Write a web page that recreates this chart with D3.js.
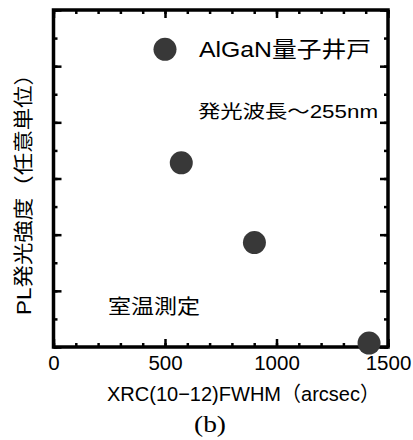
<!DOCTYPE html>
<html><head><meta charset="utf-8">
<script src="https://cdn.jsdelivr.net/npm/d3@7"></script>
<style>html,body{margin:0;padding:0;background:#fff;}svg{display:block;}</style>
</head><body>
<script>
const fwhm = [500, 573, 901, 1415];
const plIntensity = [5.3, 3.28, 1.86, 0.07];
const xMajorTicks = [0, 500, 1000, 1500];
const xMinorTicks = d3.range(0, 1501, 100);
const yMajorTicks = [0, 1, 2, 3, 4, 5, 6];
const yMinorTicks = d3.range(0, 6.01, 0.5);
const annotations = ["AlGaN量子井戸", "発光波長～255nm", "室温測定"];
const xLabel = "XRC(10−12)FWHM（arcsec）";
const yLabel = "PL発光強度（任意単位）";
const caption = "(b)";

const W = 413, H = 440;
const L = 53.5, R = 388, T = 10, B = 347;
const svg = d3.select("body").append("svg").attr("width", W).attr("height", H);
const x = d3.scaleLinear().domain([0, 1500]).range([L, R]);
const y = d3.scaleLinear().domain([0, 6]).range([B, T]);
const sans = "'Liberation Sans', Arial, 'Noto Sans CJK JP', sans-serif";
const cjk = "'Noto Sans CJK JP', 'Liberation Sans', sans-serif";

function styleAxis(g, w) {
  g.select(".domain").remove();
  g.selectAll(".tick line").attr("stroke", "#000").attr("stroke-width", w);
}
// bottom
svg.append("g").attr("transform", `translate(0,${B})`)
  .call(d3.axisBottom(x).tickValues(xMinorTicks).tickSize(-4).tickFormat(""))
  .call(g => styleAxis(g, 2.5));
svg.append("g").attr("transform", `translate(0,${B})`)
  .call(d3.axisBottom(x).tickValues(xMajorTicks).tickSize(-8).tickPadding(8).tickFormat(d3.format("d")))
  .call(g => styleAxis(g, 2.5))
  .call(g => g.selectAll("text").attr("font-family", sans).attr("font-size", 20.5).attr("fill", "#000"));
// top
svg.append("g").attr("transform", `translate(0,${T})`)
  .call(d3.axisTop(x).tickValues(xMinorTicks).tickSize(-4).tickFormat(""))
  .call(g => styleAxis(g, 2.5));
svg.append("g").attr("transform", `translate(0,${T})`)
  .call(d3.axisTop(x).tickValues(xMajorTicks).tickSize(-8).tickFormat(""))
  .call(g => styleAxis(g, 2.5));
// left / right
svg.append("g").attr("transform", `translate(${L},0)`)
  .call(d3.axisLeft(y).tickValues(yMinorTicks).tickSize(-4).tickFormat(""))
  .call(g => styleAxis(g, 2.5));
svg.append("g").attr("transform", `translate(${L},0)`)
  .call(d3.axisLeft(y).tickValues(yMajorTicks).tickSize(-8).tickFormat(""))
  .call(g => styleAxis(g, 2.5));
svg.append("g").attr("transform", `translate(${R},0)`)
  .call(d3.axisRight(y).tickValues(yMinorTicks).tickSize(-4).tickFormat(""))
  .call(g => styleAxis(g, 2.5));
svg.append("g").attr("transform", `translate(${R},0)`)
  .call(d3.axisRight(y).tickValues(yMajorTicks).tickSize(-8).tickFormat(""))
  .call(g => styleAxis(g, 2.5));
// frame
svg.append("rect").attr("x", L).attr("y", T).attr("width", R - L).attr("height", B - T)
  .attr("fill", "none").attr("stroke", "#000").attr("stroke-width", 3.5);

// points
svg.append("g").selectAll("circle").data(fwhm.map((v, i) => [v, plIntensity[i]]))
  .join("circle").attr("cx", d => x(d[0])).attr("cy", d => y(d[1])).attr("r", 11.5)
  .attr("fill", "#383838");

// annotations
svg.append("text").attr("x", 199).attr("y", 57).attr("font-family", sans).attr("font-size", 22)
  .attr("textLength", 172).attr("lengthAdjust", "spacingAndGlyphs").text(annotations[0]);
svg.append("text").attr("x", 198).attr("y", 118).attr("font-family", sans).attr("font-size", 18)
  .attr("textLength", 180).attr("lengthAdjust", "spacingAndGlyphs").text(annotations[1]);
svg.append("text").attr("x", 108).attr("y", 314).attr("font-family", cjk).attr("font-size", 20)
  .attr("textLength", 92).attr("lengthAdjust", "spacingAndGlyphs").text(annotations[2]);

// axis labels
svg.append("text").attr("x", 107).attr("y", 401).attr("font-family", sans).attr("font-size", 20.5)
  .attr("textLength", 273).attr("lengthAdjust", "spacingAndGlyphs").text(xLabel);
svg.append("text").attr("transform", "translate(31,315) rotate(-90)").attr("font-family", sans).attr("font-size", 20)
  .attr("textLength", 252).attr("lengthAdjust", "spacingAndGlyphs").text(yLabel);
svg.append("text").attr("x", 194).attr("y", 432)
  .attr("font-family", "'Liberation Serif', 'DejaVu Serif', serif").attr("font-size", 23)
  .attr("textLength", 32).attr("lengthAdjust", "spacingAndGlyphs").text(caption);
</script>
</body></html>
